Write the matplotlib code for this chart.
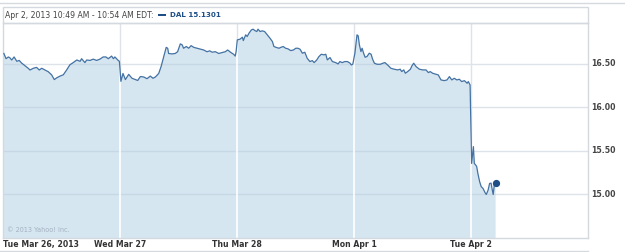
import numpy as np
import matplotlib
matplotlib.use("Agg")
import matplotlib.pyplot as plt
from matplotlib.lines import Line2D
from matplotlib.patches import Rectangle

# ---- data: minutes since 9:30 open and DAL price, one pair of lists per session ----
day_labels = ["Tue Mar 26, 2013", "Wed Mar 27", "Thu Mar 28", "Mon Apr 1", "Tue Apr 2"]

t1 = [3,10,18,23,29,37,46,54,62,73,84,90,101,112,121,129,140,151,162,171,179,190,201,212,223,234,246,257,262,273,279,290,301,312,323,334,343,351,362,368,373,384,388]
p1 = [16.62,16.56,16.58,16.57,16.545,16.58,16.53,16.54,16.51,16.48,16.45,16.43,16.45,16.46,16.43,16.45,16.43,16.41,16.375,16.32,16.34,16.36,16.375,16.43,16.49,16.515,16.545,16.53,16.56,16.515,16.545,16.54,16.555,16.54,16.555,16.58,16.58,16.56,16.59,16.56,16.58,16.54,16.53]

t2 = [3,10,18,29,40,51,59,68,79,90,101,110,118,129,137,146,154,159,162,173,184,192,201,207,212,221,229,237,246,257,268,279,290,299,307,318,329,340,351,359,368,379,384,387]
p2 = [16.30,16.39,16.32,16.38,16.335,16.32,16.31,16.355,16.35,16.33,16.36,16.335,16.35,16.39,16.47,16.584,16.69,16.68,16.62,16.615,16.62,16.64,16.73,16.72,16.68,16.70,16.68,16.71,16.69,16.68,16.67,16.66,16.64,16.65,16.635,16.64,16.62,16.63,16.64,16.66,16.635,16.61,16.59,16.64]

t3 = [1,10,18,21,29,34,40,48,54,59,66,70,77,84,92,101,110,118,123,132,140,146,154,162,170,179,188,196,203,210,218,226,234,243,251,257,266,273,281,290,296,301,310,318,329,337,343,351,359,368,377,381,386]
p3 = [16.776,16.784,16.807,16.768,16.834,16.815,16.853,16.891,16.899,16.884,16.872,16.899,16.872,16.88,16.872,16.834,16.795,16.757,16.70,16.688,16.68,16.69,16.70,16.68,16.673,16.653,16.66,16.68,16.68,16.669,16.623,16.634,16.565,16.527,16.538,16.515,16.546,16.584,16.611,16.604,16.611,16.546,16.573,16.527,16.515,16.50,16.527,16.515,16.527,16.527,16.508,16.488,16.496]

t4 = [3,10,14,18,23,27,32,37,43,51,57,62,68,77,88,96,103,112,123,134,146,154,159,166,171,179,188,193,199,207,218,229,240,248,254,262,273,281,290,301,310,318,326,334,343,351,359,368,377,381,387]
p4 = [16.623,16.834,16.822,16.719,16.642,16.68,16.623,16.577,16.584,16.623,16.611,16.554,16.508,16.496,16.496,16.508,16.515,16.488,16.45,16.439,16.431,16.439,16.412,16.431,16.393,16.412,16.439,16.477,16.508,16.469,16.439,16.431,16.431,16.40,16.412,16.393,16.381,16.373,16.316,16.308,16.316,16.354,16.316,16.335,16.316,16.324,16.297,16.308,16.278,16.297,16.258]

t5 = [2,8,11,16,19,23,29,34,40,47,51,57,62,67,71,74,78,82]
p5 = [15.357,15.55,15.357,15.337,15.32,15.24,15.145,15.09,15.07,15.02,15.0,15.05,15.127,15.13,15.05,15.0,15.12,15.1301]

sessions = [(t1, p1), (t2, p2), (t3, p3), (t4, p4), (t5, p5)]
y_ticks = [15.00, 15.50, 16.00, 16.50]
header = "Apr 2, 2013 10:49 AM - 10:54 AM EDT:"
legend_label = "DAL 15.1301"
session_minutes = 390.0

# ---- build series ----
xs, ys = [], []
for d, (t, p) in enumerate(sessions):
    xs.extend([d + m / session_minutes for m in t])
    ys.extend(p)
xs = np.array(xs); ys = np.array(ys)

W, H = 625, 252
fig = plt.figure(figsize=(W / 100, H / 100), dpi=100)
fig.patch.set_facecolor("white")

def fx(px): return px / W
def fy(py): return 1 - py / H

L, R, T, B = 3, 588, 23, 238
ax = fig.add_axes([fx(L), fy(B), fx(R) - fx(L), fy(T) - fy(B)])
ax.set_xlim(0, len(sessions))
ax.set_ylim(14.5, 16.97)

line_col = "#4472a3"
fill_col = "#d6e6f1"
grid_white = "#dde3e9"
grid_fill = "#c6d7e5"

for yv in y_ticks:
    ax.axhline(yv, color=grid_white, lw=1.0, zorder=0)
for d in range(1, len(sessions)):
    ax.axvline(d, color=grid_white, lw=1.0, zorder=0)

poly = ax.fill_between(xs, ys, 14.0, color=fill_col, lw=0, zorder=1)
clip_path = poly.get_paths()[0]
for yv in y_ticks:
    l = ax.axhline(yv, color=grid_fill, lw=1.0, zorder=2)
    l.set_clip_path(clip_path, ax.transData)
for d in range(1, len(sessions)):
    l = ax.axvline(d, color="white", lw=1.2, zorder=2)
    l.set_clip_path(clip_path, ax.transData)

ax.plot(xs, ys, color=line_col, lw=0.9, zorder=3)
ax.plot(xs[-1:], ys[-1:], "o", color="#1d4f86", ms=4.2, zorder=4)

for s in ax.spines.values():
    s.set_color("#d3d9df"); s.set_linewidth(1.0)
ax.set_xticks([]); ax.set_yticks([])

txt_col = "#333333"
# y tick labels on right
for yv in y_ticks:
    fig.text(fx(591), ax.transData.transform((0, yv))[1] / H, f"{yv:.2f}",
             fontsize=5.6, fontweight="bold", color="#444444", ha="left", va="center",
             family="DejaVu Sans")

# x labels
for d, lab in enumerate(day_labels):
    xpix = L + (R - L) * d / len(sessions)
    ha = "left" if d == 0 else "center"
    fig.text(fx(xpix), fy(244.5), lab, fontsize=5.6, fontweight="bold", color=txt_col,
             ha=ha, va="center", family="DejaVu Sans")

# watermark
ax.text(0.007, 0.035, "\u00a9 2013 Yahoo! Inc.", transform=ax.transAxes, fontsize=4.7,
        color="#a3b1bf", ha="left", va="center", zorder=5)

# header
fig.add_artist(Line2D([0, 1], [fy(2.5), fy(2.5)], color="#d6dadf", lw=1.0))
fig.add_artist(Rectangle((fx(L), fy(T)), fx(R) - fx(L), fy(7) - fy(T), fill=False,
                         edgecolor="#d3d9df", lw=1.0))
fig.add_artist(Line2D([0, fx(R)], [fy(251), fy(251)], color="#d6dadf", lw=1.0))
fig.text(fx(5), fy(15), header, fontsize=5.55, color="#444444", ha="left", va="center",
         family="DejaVu Sans")
fig.add_artist(Rectangle((fx(158), fy(16)), fx(8), fy(13.5) - fy(16), color="#1d4f86", lw=0))
fig.text(fx(170), fy(15), legend_label, fontsize=5.1, fontweight="bold", color="#1d4f86",
         ha="left", va="center", family="DejaVu Sans")

fig.savefig("out.png", dpi=100)
